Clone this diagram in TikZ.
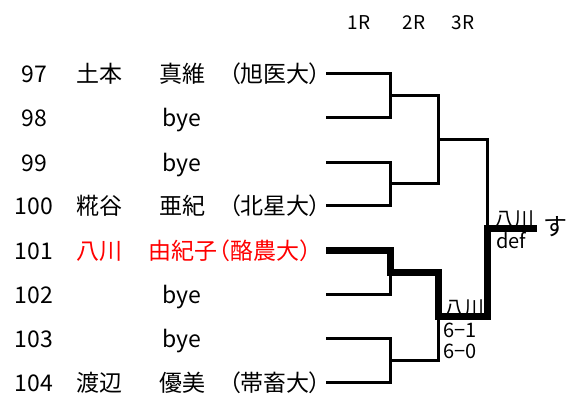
\documentclass[tikz,border=0pt]{standalone}
\usepackage{fontspec}
\setmainfont{Noto Sans CJK JP}
\begin{document}
\begin{tikzpicture}[x=1pt,y=-1pt,
  txt/.style={font=\fontsize{23}{23}\selectfont, inner sep=0pt, anchor=base},
  uni/.style={txt, anchor=base east, font=\fontsize{23}{23}\selectfont\addfontfeatures{RawFeature=+palt}},
  uniw/.style={txt, anchor=base east},
  hdr/.style={font=\fontsize{19}{19}\selectfont, inner sep=0pt, anchor=base},
  lbl/.style={font=\fontsize{20}{20}\selectfont, inner sep=0pt, anchor=base west},
  win/.style={red},
  thinln/.style={line width=3pt, line join=miter},
  thickln/.style={line width=7pt, line join=miter}]
\useasboundingbox[fill=white] (0,0) rectangle (571,403);
% header
\node[hdr] (h1) at (359,30) {1R};
\node[hdr] (h2) at (414,30) {2R};
\node[hdr] (h3) at (463,30) {3R};
% entries
\node[txt] (n97) at (34,83) {97};
\node[txt] (f97) at (99,83) {土本};
\node[txt] (g97) at (182,83) {真維};
\node[uni] (u97) at (321,83) {（旭医大）};
\node[txt] (n98) at (34,127) {98};
\node[txt] (g98) at (182,127) {bye};
\node[txt] (n99) at (34,172) {99};
\node[txt] (g99) at (182,172) {bye};
\node[txt] (n100) at (34,215) {100};
\node[txt] (f100) at (99,215) {糀谷};
\node[txt] (g100) at (182,215) {亜紀};
\node[uni] (u100) at (321,215) {（北星大）};
\node[txt] (n101) at (34,260) {101};
\node[txt,win] (f101) at (99,260) {八川};
\node[txt,win] (g101) at (183,260) {由紀子};
\node[uniw,win] (u101) at (323,260) {（酪農大）};
\node[txt] (n102) at (34,304) {102};
\node[txt] (g102) at (182,304) {bye};
\node[txt] (n103) at (34,348) {103};
\node[txt] (g103) at (182,348) {bye};
\node[txt] (n104) at (34,392) {104};
\node[txt] (f104) at (99,392) {渡辺};
\node[txt] (g104) at (182,392) {優美};
\node[uni] (u104) at (321,392) {（帯畜大）};
% score labels
\node[lbl] (w3) at (494,227) {八川};
\node[lbl] (d3) at (496,249) {def};
\node[lbl] (w2) at (444,316) {八川};
\node[lbl] (s2a) at (443,338) {6−1};
\node[lbl] (s2b) at (443,359) {6−0};
\node[font=\fontsize{24}{24}\selectfont, inner sep=0pt] (fin-t) at (555,227) {す};
% bracket coordinates
\coordinate (s97) at (326,74);
\coordinate (s98) at (326,118);
\coordinate (s99) at (326,163);
\coordinate (s100) at (326,206);
\coordinate (s101) at (326,251);
\coordinate (s102) at (326,295);
\coordinate (s103) at (326,339);
\coordinate (s104) at (326,383);
\coordinate (r1a) at (390,96);
\coordinate (r1b) at (390,184);
\coordinate (r1c) at (390,273);
\coordinate (r1d) at (390,361);
\coordinate (r2a) at (438,140);
\coordinate (r2b) at (438,317);
\coordinate (r3) at (487,229);
\coordinate (fin) at (537,229);
% thin lines
\draw[thinln] (s97) -| (r1a);
\draw[thinln] (s98) -| (r1a);
\draw[thinln] (s99) -| (r1b);
\draw[thinln] (s100) -| (r1b);
\draw[thinln] (s102) -| (r1c);
\draw[thinln] (s103) -| (r1d);
\draw[thinln] (s104) -| (r1d);
\draw[thinln] (r1a) -| (r2a);
\draw[thinln] (r1b) -| (r2a);
\draw[thinln] (r1d) -| (r2b);
\draw[thinln] (r2a) -| (r3);
% winner path
\draw[thickln] (s101) -| (r1c) -| (r2b) -| (r3) -- (fin);
\end{tikzpicture}
\end{document}
